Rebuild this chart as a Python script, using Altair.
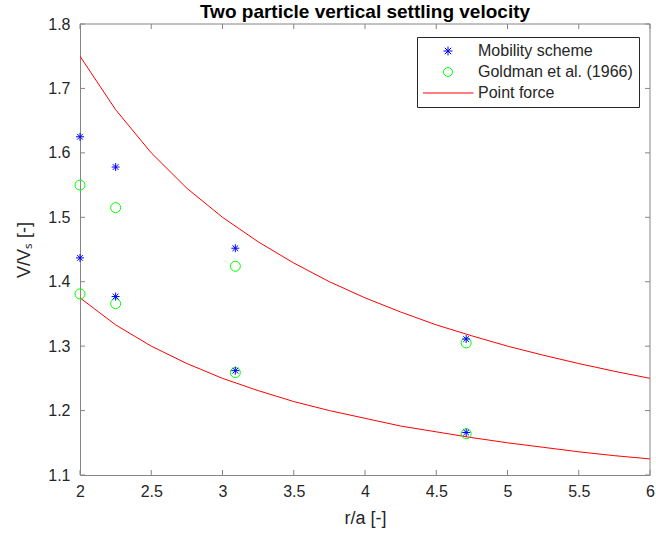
import altair as alt
import pandas as pd

# ---- data ----
series_names = ["Mobility scheme", "Goldman et al. (1966)", "Point force"]

point_x = [2.0, 2.0, 2.25, 2.25, 3.09, 3.09, 4.71, 4.71]
mobility_y = [1.625, 1.437, 1.578, 1.377, 1.452, 1.262, 1.311, 1.166]
goldman_y = [1.550, 1.381, 1.515, 1.366, 1.424, 1.259, 1.305, 1.164]

curve_x = [2.0, 2.25, 2.5, 2.75, 3.0, 3.25, 3.5, 3.75, 4.0,
           4.25, 4.5, 4.75, 5.0, 5.25, 5.5, 5.75, 6.0]
force_upper = [1.750, 1.667, 1.600, 1.545, 1.500, 1.462, 1.429, 1.400, 1.375,
               1.353, 1.333, 1.316, 1.300, 1.286, 1.273, 1.261, 1.250]
force_lower = [1.375, 1.333, 1.300, 1.273, 1.250, 1.231, 1.214, 1.200, 1.188,
               1.176, 1.167, 1.158, 1.150, 1.143, 1.136, 1.130, 1.125]

x_ticks = [2, 2.5, 3, 3.5, 4, 4.5, 5, 5.5, 6]
y_ticks = [1.1, 1.2, 1.3, 1.4, 1.5, 1.6, 1.7, 1.8]

# ---- tables ----
mob_df = pd.DataFrame({"x": point_x, "y": mobility_y, "series": series_names[0]})
gold_df = pd.DataFrame({"x": point_x, "y": goldman_y, "series": series_names[1]})
curve_df = pd.concat([
    pd.DataFrame({"x": curve_x, "y": force_upper, "branch": "upper", "series": series_names[2]}),
    pd.DataFrame({"x": curve_x, "y": force_lower, "branch": "lower", "series": series_names[2]}),
])
x0, x1, y0, y1 = x_ticks[0], x_ticks[-1], y_ticks[0], y_ticks[-1]
tb_df = pd.DataFrame({"x": x_ticks, "y": y0})
tt_df = pd.DataFrame({"x": x_ticks, "y": y1})
tl_df = pd.DataFrame({"y": y_ticks, "x": x0})
tr_df = pd.DataFrame({"y": y_ticks, "x": x1})
frame_df = pd.DataFrame({"x": [x0, x1], "x2": [x1, x1], "y": [y1, y0], "y2": [y1, y1]})

W, H = 570, 451
FONT = "Liberation Sans"
TXT = "#262626"
AX = "#858585"

asterisk = "M0,-1L0,1M-1,0L1,0M-0.72,-0.72L0.72,0.72M-0.72,0.72L0.72,-0.72"
legend_line = "M-5.7,0L5.7,0"

xs = alt.Scale(domain=[2, 6], nice=False, zero=False)
ys = alt.Scale(domain=[1.1, 1.8], nice=False, zero=False)
color_scale = alt.Scale(domain=series_names, range=["#0000ff", "#00ff00", "#ff0000"])
shape_scale = alt.Scale(domain=series_names, range=[asterisk, "circle", legend_line])

legend = alt.Legend(
    title=None, orient="none", legendX=337, legendY=13,
    padding=6, strokeColor=TXT, fillColor="white",
    labelFont=FONT, labelFontSize=16, labelColor=TXT,
    symbolSize=80, symbolOffset=17, labelOffset=22,
    clipHeight=16, rowPadding=5, symbolStrokeWidth=1,
)

# curves, with the labelled axes
curves = alt.Chart(curve_df).mark_line(strokeWidth=1, clip=True).encode(
    x=alt.X("x:Q", scale=xs, axis=alt.Axis(
        orient="bottom", values=x_ticks, format="~g", ticks=False,
        domain=True, domainColor=AX, domainWidth=1, labelFlush=False,
        grid=False, labelPadding=8, title="r/a [-]", titlePadding=10)),
    y=alt.Y("y:Q", scale=ys, axis=alt.Axis(
        orient="left", values=y_ticks, format=".1f", ticks=False,
        domain=True, domainColor=AX, domainWidth=1, labelFlush=False,
        grid=False, labelPadding=10, title="V/Vₛ [-]", titlePadding=14)),
    color=alt.Color("series:N", scale=color_scale, legend=legend),
    detail="branch:N",
)

circles = alt.Chart(gold_df).mark_point(filled=False, strokeWidth=1, opacity=1, size=100).encode(
    x=alt.X("x:Q", scale=xs),
    y=alt.Y("y:Q", scale=ys),
    color=alt.Color("series:N", scale=color_scale, legend=legend),
    shape=alt.Shape("series:N", scale=shape_scale, legend=legend),
)

stars = alt.Chart(mob_df).mark_point(filled=False, strokeWidth=1, opacity=1, size=64).encode(
    x=alt.X("x:Q", scale=xs),
    y=alt.Y("y:Q", scale=ys),
    color=alt.Color("series:N", scale=color_scale, legend=legend),
    shape=alt.Shape("series:N", scale=shape_scale, legend=legend),
)

# top and right edges of the box
frame = alt.Chart(frame_df).mark_rule(color=AX, strokeWidth=1).encode(
    x=alt.X("x:Q", scale=xs), x2="x2:Q",
    y=alt.Y("y:Q", scale=ys), y2="y2:Q",
)

# inward ticks on all four edges of the box
tick_style = dict(size=5, thickness=1, color=AX, opacity=1)
ticks_bottom = alt.Chart(tb_df).mark_tick(orient="vertical", yOffset=-2.5, **tick_style).encode(
    x=alt.X("x:Q", scale=xs), y=alt.Y("y:Q", scale=ys))
ticks_top = alt.Chart(tt_df).mark_tick(orient="vertical", yOffset=2.5, **tick_style).encode(
    x=alt.X("x:Q", scale=xs), y=alt.Y("y:Q", scale=ys))
ticks_left = alt.Chart(tl_df).mark_tick(orient="horizontal", xOffset=2.5, **tick_style).encode(
    x=alt.X("x:Q", scale=xs), y=alt.Y("y:Q", scale=ys))
ticks_right = alt.Chart(tr_df).mark_tick(orient="horizontal", xOffset=-2.5, **tick_style).encode(
    x=alt.X("x:Q", scale=xs), y=alt.Y("y:Q", scale=ys))

chart = alt.layer(
    curves, frame, ticks_bottom, ticks_top, ticks_left, ticks_right, circles, stars
).properties(
    width=W, height=H,
    autosize=alt.AutoSizeParams(type="none"),
    padding={"left": 80, "top": 24, "right": 6, "bottom": 61},
    title=alt.TitleParams(
        "Two particle vertical settling velocity", anchor="middle", frame="group",
        font=FONT, fontSize=19, fontWeight="bold", color="#000000", offset=-6),
    background="white",
).configure_view(
    stroke=None, fill="white"
).configure_axis(
    labelFont=FONT, labelFontSize=16, labelColor=TXT,
    titleFont=FONT, titleFontSize=18, titleColor=TXT, titleFontWeight="normal",
)

chart.save("out.html", embed_options={"renderer": "svg", "actions": False})
